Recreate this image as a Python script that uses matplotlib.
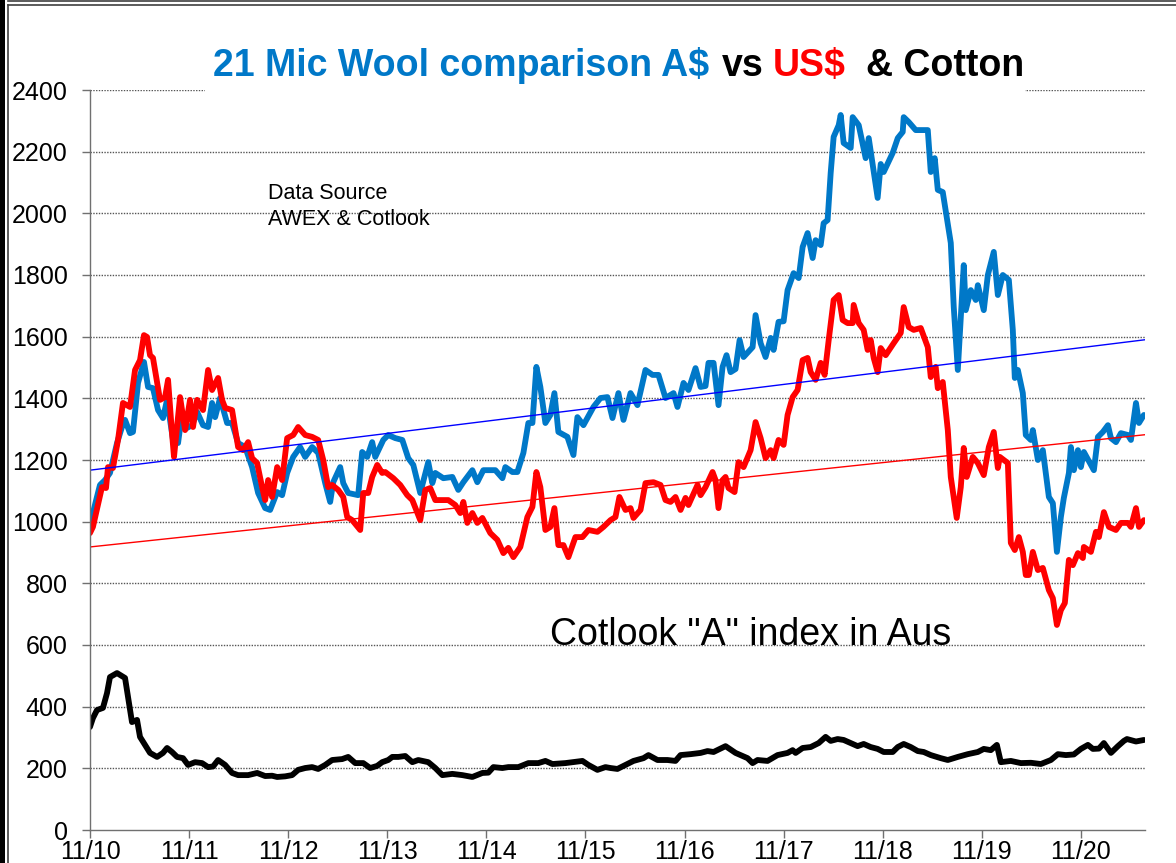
import matplotlib.pyplot as plt
from matplotlib.lines import Line2D
from matplotlib.patches import Rectangle


W, H = 1176, 863  # output size in pixels
BLUE = "#0078C8"
RED = "#FF0000"

# 21 micron wool, A$ (c/kg clean)
aud_years = [2010.833, 2010.934, 2010.985, 2011.035, 2011.106, 2011.156, 2011.187, 2011.237, 2011.267, 2011.318,
             2011.378, 2011.419, 2011.469, 2011.520, 2011.570, 2011.611, 2011.671, 2011.722, 2011.762, 2011.813,
             2011.863, 2011.914, 2011.974, 2012.025, 2012.065, 2012.096, 2012.146, 2012.217, 2012.267, 2012.328,
             2012.399, 2012.469, 2012.530, 2012.601, 2012.651, 2012.722, 2012.772, 2012.823, 2012.884, 2012.954,
             2013.005, 2013.075, 2013.136, 2013.207, 2013.257, 2013.288, 2013.358, 2013.389, 2013.439, 2013.540,
             2013.580, 2013.631, 2013.681, 2013.712, 2013.793, 2013.843, 2013.914, 2013.985, 2014.045, 2014.096,
             2014.166, 2014.247, 2014.288, 2014.318, 2014.399, 2014.490, 2014.550, 2014.601, 2014.692, 2014.742,
             2014.803, 2014.924, 2014.995, 2015.025, 2015.096, 2015.146, 2015.207, 2015.257, 2015.298, 2015.338,
             2015.378, 2015.429, 2015.479, 2015.520, 2015.560, 2015.651, 2015.712, 2015.752, 2015.813, 2015.914,
             2015.985, 2016.055, 2016.106, 2016.166, 2016.217, 2016.288, 2016.358, 2016.439, 2016.510, 2016.570,
             2016.641, 2016.692, 2016.722, 2016.762, 2016.823, 2016.873, 2016.944, 2016.995, 2017.045, 2017.075,
             2017.126, 2017.176, 2017.217, 2017.257, 2017.298, 2017.348, 2017.389, 2017.429, 2017.520, 2017.550,
             2017.601, 2017.651, 2017.702, 2017.732, 2017.782, 2017.833, 2017.873, 2017.934, 2017.985, 2018.025,
             2018.075, 2018.126, 2018.156, 2018.207, 2018.237, 2018.277, 2018.308, 2018.338, 2018.389, 2018.409,
             2018.439, 2018.510, 2018.530, 2018.591, 2018.661, 2018.692, 2018.732, 2018.782, 2018.813, 2018.843,
             2018.934, 2018.985, 2019.035, 2019.045, 2019.096, 2019.166, 2019.288, 2019.318, 2019.358, 2019.389,
             2019.439, 2019.520, 2019.550, 2019.591, 2019.651, 2019.671, 2019.722, 2019.772, 2019.793, 2019.853,
             2019.894, 2019.954, 2019.995, 2020.045, 2020.106, 2020.146, 2020.166, 2020.197, 2020.247, 2020.277,
             2020.328, 2020.348, 2020.399, 2020.449, 2020.510, 2020.550, 2020.591, 2020.631, 2020.661, 2020.712,
             2020.732, 2020.762, 2020.803, 2020.833, 2020.863, 2020.964, 2021.005, 2021.055, 2021.106, 2021.136,
             2021.187, 2021.237, 2021.308, 2021.338, 2021.389, 2021.419, 2021.469]
aud_vals = [990, 1119, 1135, 1158, 1255, 1307, 1330, 1287, 1291, 1450,
            1518, 1437, 1433, 1362, 1336, 1395, 1265, 1255, 1352, 1304,
            1313, 1356, 1313, 1307, 1385, 1339, 1401, 1320, 1320, 1255,
            1242, 1177, 1093, 1044, 1038, 1096, 1086, 1158, 1210, 1242,
            1210, 1242, 1223, 1125, 1064, 1128, 1177, 1125, 1093, 1086,
            1226, 1210, 1258, 1210, 1265, 1281, 1271, 1265, 1206, 1184,
            1093, 1193, 1125, 1158, 1141, 1145, 1103, 1128, 1167, 1128,
            1167, 1167, 1141, 1177, 1161, 1161, 1223, 1320, 1320, 1502,
            1437, 1320, 1346, 1417, 1291, 1275, 1216, 1339, 1313, 1372,
            1401, 1404, 1336, 1417, 1330, 1417, 1378, 1492, 1476, 1476,
            1401, 1411, 1417, 1372, 1450, 1427, 1498, 1437, 1440, 1515,
            1515, 1378, 1502, 1540, 1485, 1495, 1589, 1534, 1566, 1670,
            1579, 1534, 1596, 1557, 1648, 1650, 1751, 1806, 1790, 1891,
            1936, 1855, 1913, 1897, 1968, 1978, 2131, 2248, 2286, 2319,
            2228, 2212, 2312, 2286, 2179, 2244, 2157, 2050, 2160, 2134,
            2196, 2244, 2264, 2312, 2296, 2270, 2270, 2134, 2179, 2076,
            2069, 1904, 1696, 1492, 1832, 1686, 1751, 1719, 1767, 1686,
            1800, 1875, 1735, 1800, 1784, 1622, 1466, 1492, 1417, 1281,
            1265, 1297, 1200, 1232, 1080, 1060, 902, 1015, 1077, 1158,
            1242, 1167, 1232, 1177, 1226, 1167, 1275, 1291, 1313, 1271,
            1258, 1287, 1281, 1265, 1385, 1320, 1346]

# 21 micron wool, US$
usd_years = [2010.833, 2010.863, 2010.954, 2010.995, 2011.015, 2011.065, 2011.116, 2011.166, 2011.237, 2011.288,
             2011.338, 2011.378, 2011.409, 2011.439, 2011.469, 2011.540, 2011.591, 2011.621, 2011.661, 2011.681,
             2011.742, 2011.793, 2011.843, 2011.873, 2011.914, 2011.974, 2012.025, 2012.065, 2012.126, 2012.166,
             2012.197, 2012.267, 2012.328, 2012.378, 2012.429, 2012.469, 2012.520, 2012.570, 2012.601, 2012.631,
             2012.671, 2012.722, 2012.772, 2012.823, 2012.884, 2012.934, 2013.005, 2013.075, 2013.136, 2013.187,
             2013.237, 2013.277, 2013.338, 2013.389, 2013.429, 2013.479, 2013.560, 2013.591, 2013.641, 2013.681,
             2013.732, 2013.782, 2013.813, 2013.894, 2013.964, 2014.035, 2014.086, 2014.166, 2014.217, 2014.267,
             2014.318, 2014.449, 2014.520, 2014.570, 2014.601, 2014.641, 2014.692, 2014.742, 2014.793, 2014.873,
             2014.944, 2015.005, 2015.055, 2015.106, 2015.176, 2015.247, 2015.298, 2015.338, 2015.378, 2015.429,
             2015.479, 2015.520, 2015.560, 2015.611, 2015.661, 2015.732, 2015.803, 2015.863, 2015.954, 2016.015,
             2016.086, 2016.136, 2016.176, 2016.237, 2016.288, 2016.318, 2016.389, 2016.439, 2016.520, 2016.591,
             2016.641, 2016.692, 2016.742, 2016.793, 2016.843, 2016.873, 2016.964, 2016.995, 2017.045, 2017.116,
             2017.146, 2017.176, 2017.217, 2017.247, 2017.277, 2017.338, 2017.378, 2017.429, 2017.500, 2017.550,
             2017.601, 2017.651, 2017.702, 2017.732, 2017.782, 2017.833, 2017.873, 2017.924, 2017.974, 2018.025,
             2018.075, 2018.106, 2018.156, 2018.207, 2018.247, 2018.288, 2018.338, 2018.389, 2018.429, 2018.479,
             2018.530, 2018.540, 2018.591, 2018.641, 2018.681, 2018.712, 2018.742, 2018.782, 2018.813, 2018.863,
             2018.944, 2019.015, 2019.045, 2019.096, 2019.146, 2019.217, 2019.288, 2019.318, 2019.368, 2019.389,
             2019.439, 2019.490, 2019.520, 2019.580, 2019.621, 2019.651, 2019.681, 2019.742, 2019.793, 2019.853,
             2019.904, 2019.954, 2019.995, 2020.015, 2020.096, 2020.126, 2020.166, 2020.207, 2020.247, 2020.277,
             2020.308, 2020.348, 2020.399, 2020.449, 2020.510, 2020.550, 2020.591, 2020.631, 2020.671, 2020.712,
             2020.752, 2020.803, 2020.853, 2020.863, 2020.934, 2020.985, 2021.015, 2021.065, 2021.116, 2021.187,
             2021.237, 2021.308, 2021.338, 2021.389, 2021.419, 2021.469]
usd_vals = [963, 983, 1112, 1109, 1177, 1174, 1265, 1385, 1372, 1492,
            1524, 1605, 1599, 1540, 1531, 1395, 1404, 1460, 1287, 1210,
            1404, 1297, 1395, 1307, 1395, 1362, 1492, 1427, 1466, 1395,
            1369, 1362, 1242, 1232, 1258, 1206, 1190, 1112, 1070, 1135,
            1080, 1177, 1135, 1271, 1281, 1307, 1281, 1275, 1265, 1200,
            1112, 1119, 1103, 1080, 1015, 1005, 973, 1093, 1093, 1145,
            1184, 1158, 1161, 1141, 1119, 1086, 1070, 1005, 1103, 1109,
            1070, 1070, 1054, 1028, 1064, 996, 1028, 996, 1012, 963,
            941, 898, 915, 885, 918, 1015, 1048, 1161, 1112, 973,
            983, 1044, 924, 924, 885, 950, 950, 973, 967, 983,
            1005, 1015, 1080, 1038, 1044, 1012, 1038, 1125, 1128, 1119,
            1070, 1064, 1080, 1038, 1077, 1054, 1119, 1086, 1112, 1161,
            1135, 1044, 1135, 1145, 1109, 1096, 1193, 1177, 1232, 1323,
            1271, 1206, 1232, 1206, 1265, 1249, 1346, 1404, 1427, 1524,
            1531, 1485, 1460, 1515, 1476, 1589, 1719, 1735, 1654, 1644,
            1644, 1703, 1644, 1622, 1557, 1589, 1531, 1485, 1563, 1540,
            1579, 1612, 1696, 1631, 1622, 1628, 1566, 1469, 1502, 1433,
            1453, 1297, 1145, 1012, 1112, 1239, 1145, 1210, 1190, 1151,
            1242, 1291, 1174, 1210, 1190, 931, 908, 950, 902, 827,
            827, 902, 843, 850, 778, 752, 665, 713, 736, 876,
            859, 898, 882, 918, 902, 967, 950, 1031, 983, 973,
            996, 996, 983, 1044, 983, 1005]

# Cotlook "A" index in A$
cotton_years = [2010.833, 2010.863, 2010.904, 2010.964, 2011.005, 2011.035, 2011.106, 2011.187, 2011.217, 2011.257,
                2011.308, 2011.338, 2011.389, 2011.439, 2011.510, 2011.570, 2011.611, 2011.661, 2011.712, 2011.772,
                2011.823, 2011.894, 2011.964, 2012.025, 2012.075, 2012.126, 2012.197, 2012.267, 2012.328, 2012.429,
                2012.520, 2012.601, 2012.671, 2012.722, 2012.803, 2012.873, 2012.934, 2013.005, 2013.075, 2013.136,
                2013.207, 2013.277, 2013.378, 2013.439, 2013.510, 2013.591, 2013.661, 2013.732, 2013.782, 2013.843,
                2013.884, 2013.944, 2014.015, 2014.086, 2014.146, 2014.247, 2014.318, 2014.389, 2014.490, 2014.591,
                2014.692, 2014.793, 2014.853, 2014.904, 2014.995, 2015.055, 2015.156, 2015.257, 2015.358, 2015.429,
                2015.500, 2015.631, 2015.803, 2015.863, 2015.954, 2016.035, 2016.086, 2016.156, 2016.237, 2016.318,
                2016.419, 2016.469, 2016.560, 2016.661, 2016.742, 2016.793, 2016.894, 2016.995, 2017.065, 2017.126,
                2017.247, 2017.348, 2017.469, 2017.520, 2017.570, 2017.671, 2017.772, 2017.873, 2017.924, 2017.954,
                2018.025, 2018.106, 2018.187, 2018.257, 2018.308, 2018.378, 2018.439, 2018.510, 2018.580, 2018.641,
                2018.712, 2018.782, 2018.843, 2018.934, 2018.985, 2019.045, 2019.116, 2019.187, 2019.247, 2019.318,
                2019.419, 2019.490, 2019.591, 2019.692, 2019.793, 2019.853, 2019.924, 2019.985, 2020.025, 2020.126,
                2020.227, 2020.328, 2020.429, 2020.530, 2020.601, 2020.681, 2020.762, 2020.833, 2020.904, 2020.954,
                2021.015, 2021.065, 2021.136, 2021.207, 2021.267, 2021.298, 2021.389, 2021.469]
cotton_vals = [334, 363, 389, 396, 444, 496, 509, 493, 431, 350,
               357, 302, 276, 250, 237, 250, 266, 253, 237, 233,
               211, 220, 217, 204, 206, 227, 211, 185, 178, 178,
               185, 175, 176, 172, 174, 178, 195, 201, 204, 198,
               211, 227, 230, 237, 217, 217, 201, 208, 220, 227,
               237, 237, 240, 220, 227, 220, 201, 178, 182, 178,
               172, 185, 186, 204, 201, 204, 204, 217, 217, 224,
               214, 217, 224, 211, 195, 204, 201, 198, 211, 224,
               233, 243, 227, 227, 224, 243, 246, 250, 256, 253,
               272, 250, 233, 217, 227, 224, 243, 250, 259, 250,
               266, 269, 282, 302, 289, 295, 292, 282, 272, 279,
               269, 263, 253, 253, 269, 279, 269, 256, 253, 243,
               233, 227, 237, 246, 253, 263, 259, 276, 220, 224,
               217, 218, 214, 227, 246, 243, 245, 263, 276, 263,
               264, 282, 250, 272, 289, 295, 287, 292]

# linear trendlines (values at left / right edge of the plot)
aud_trend = [1167, 1590]
usd_trend = [918, 1282]

x_labels = ["11/10", "11/11", "11/12", "11/13", "11/14", "11/15", "11/16",
            "11/17", "11/18", "11/19", "11/20"]
y_ticks = [0, 200, 400, 600, 800, 1000, 1200, 1400, 1600, 1800, 2000, 2200, 2400]


def fx(px):
    return px / W


def fy(py):
    return 1 - py / H


def label_to_year(lab):
    mm, yy = lab.split("/")
    return 2000 + int(yy) + (int(mm) - 1) / 12


def main():
    plt.rcParams["font.family"] = ["Liberation Sans", "DejaVu Sans"]
    fig = plt.figure(figsize=(W / 100, H / 100), dpi=100)
    ax = fig.add_axes([fx(90), fy(830), fx(1145) - fx(90), fy(90) - fy(830)])

    x_ticks = [label_to_year(l) for l in x_labels]
    x_left, x_right = x_ticks[0], 2021.48
    ax.set_xlim(x_left, x_right)
    ax.set_ylim(0, 2400)

    # dotted grid
    for v in y_ticks[1:]:
        ax.axhline(v, color="#555555", lw=1.0, ls=(0, (1, 1)), zorder=0.5)

    kw = dict(lw=4.2, solid_joinstyle="round", solid_capstyle="round")
    ax.plot(cotton_years, cotton_vals, color="black", zorder=2, **kw)
    ax.plot(aud_years, aud_vals, color=BLUE, zorder=2.1, **kw)
    ax.plot(usd_years, usd_vals, color=RED, zorder=2.2, **kw)
    ax.plot([x_left, x_right], aud_trend, color="#0000FF", lw=1.0, zorder=2.5)
    ax.plot([x_left, x_right], usd_trend, color=RED, lw=1.0, zorder=2.5)

    ax.set_xticks(x_ticks)
    ax.set_xticklabels(x_labels)
    ax.set_yticks(y_ticks)
    ax.tick_params(axis="both", direction="out", length=6, width=1, color="#707070",
                   labelsize=18)
    ax.tick_params(axis="y", pad=10)
    ax.tick_params(axis="x", pad=1)
    for side in ["top", "right"]:
        ax.spines[side].set_visible(False)
    for side in ["left", "bottom"]:
        ax.spines[side].set_color("#707070")
        ax.spines[side].set_linewidth(1.0)
        ax.spines[side].set_zorder(3)

    # white title box hiding the top gridline
    ax.add_patch(Rectangle((fx(205), fy(94)), fx(1025) - fx(205), fy(36) - fy(94),
                           transform=fig.transFigure, facecolor="white",
                           edgecolor="none", zorder=4, clip_on=False))

    title_kw = dict(transform=fig.transFigure, fontsize=27, fontweight="bold",
                    va="baseline", ha="left", zorder=5)
    ax.text(fx(213), fy(76), "21 Mic Wool comparison A$", color=BLUE, **title_kw)
    ax.text(fx(722), fy(76), "vs", color="black", **title_kw)
    ax.text(fx(773), fy(76), "US$", color=RED, **title_kw)
    ax.text(fx(866), fy(76), "& Cotton", color="black", **title_kw)

    ax.text(fx(268), fy(199), "Data Source", transform=fig.transFigure,
            fontsize=15.5, va="baseline", ha="left")
    ax.text(fx(268), fy(225), "AWEX & Cotlook", transform=fig.transFigure,
            fontsize=15.5, va="baseline", ha="left")
    ax.text(fx(550), fy(645), 'Cotlook "A" index in Aus', transform=fig.transFigure,
            fontsize=27, va="baseline", ha="left")

    # window frame around the screenshot
    fig.add_artist(Rectangle((0, 0), fx(5), 1, transform=fig.transFigure,
                             facecolor="black", edgecolor="none"))
    fig.add_artist(Line2D([fx(7.5), fx(7.5)], [0, fy(5.5)], transform=fig.transFigure,
                          color="#404040", lw=1.2))
    fig.add_artist(Line2D([fx(7.5), 1], [fy(5.5), fy(5.5)], transform=fig.transFigure,
                          color="#404040", lw=1.2))
    fig.add_artist(Line2D([fx(7.5), 1], [fy(0.6), fy(0.6)], transform=fig.transFigure,
                          color="#404040", lw=1.2))

    fig.savefig("out.png", dpi=100)


if __name__ == "__main__":
    main()
